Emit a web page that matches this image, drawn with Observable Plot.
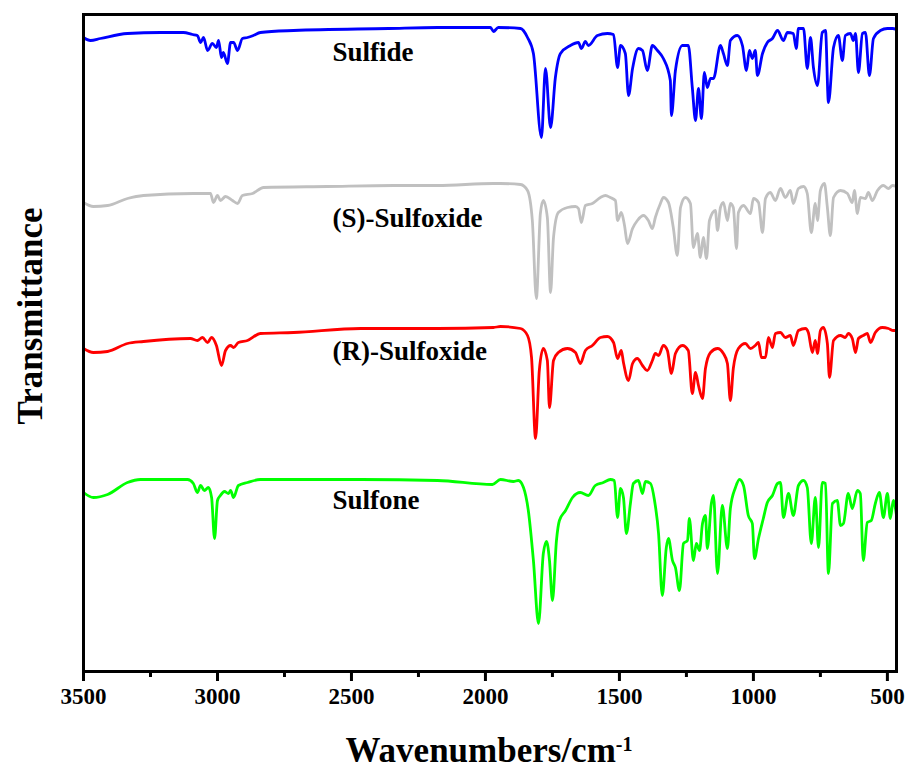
<!DOCTYPE html>
<html>
<head>
<meta charset="utf-8">
<script src="https://cdn.jsdelivr.net/npm/d3@7"></script>
<script src="https://cdn.jsdelivr.net/npm/@observablehq/plot@0.6"></script>
<style>
  html, body { margin: 0; padding: 0; background: #fff; }
  #chart { width: 907px; height: 778px; }
</style>
</head>
<body>
<div id="chart"></div>
<script>
// ---- Data (wavenumber cm^-1, transmittance a.u., traces offset as in the figure) ----
const majorTicks = [3500, 3000, 2500, 2000, 1500, 1000, 500];
const minorTicks = [3250, 2750, 2250, 1750, 1250, 750];

const seriesNames  = ["Sulfide", "(S)-Sulfoxide", "(R)-Sulfoxide", "Sulfone"];
const seriesColors = ["#0000FF", "#C0C0C0", "#FF0000", "#00FF00"];

const sulfide = [
[3500,634],[3474,631],[3437,633],[3336,638],[3213,639],[3127,639],[3093,637],[3075,636],[3063,629],[3052,634],[3037,621],[3019,628],[3004,624],[2996,631],[2985,614],[2978,619],[2963,608],[2951,629],[2940,629],[2925,621],[2907,633],[2888,634],[2866,636],[2840,639],[2716,641],[2362,643],[2179,644],[1981,644],[1970,640],[1952,644],[1869,643],[1843,634],[1821,618],[1791,534],[1776,603],[1757,544],[1739,594],[1720,618],[1683,626],[1653,629],[1642,623],[1627,630],[1616,626],[1582,636],[1545,638],[1522,637],[1507,604],[1496,626],[1478,618],[1466,576],[1451,603],[1429,623],[1414,621],[1396,601],[1377,626],[1358,621],[1336,613],[1310,591],[1306,556],[1291,601],[1265,626],[1243,626],[1228,584],[1216,551],[1205,583],[1194,553],[1183,599],[1172,584],[1160,593],[1149,593],[1123,626],[1112,618],[1097,606],[1086,631],[1060,636],[1041,626],[1026,601],[1015,621],[1004,613],[993,621],[985,596],[966,618],[948,629],[929,633],[910,641],[888,631],[873,639],[851,638],[840,623],[832,643],[813,643],[799,603],[787,634],[776,604],[761,586],[743,639],[731,641],[720,569],[701,624],[683,636],[668,611],[657,636],[638,638],[627,631],[619,638],[608,599],[593,638],[582,639],[567,596],[552,633],[526,641],[500,643],[481,643],[466,642]
];

const sSulfoxide = [
[3500,469],[3463,465],[3410,466],[3336,473],[3276,476],[3090,478],[3026,478],[3015,469],[3000,476],[2989,471],[2970,475],[2944,471],[2925,468],[2907,476],[2869,478],[2828,484],[2590,485],[2343,486],[2179,486],[1970,488],[1944,488],[1869,487],[1843,481],[1825,451],[1810,373],[1795,458],[1784,471],[1769,454],[1757,379],[1746,434],[1728,459],[1694,464],[1664,465],[1653,463],[1642,449],[1627,466],[1601,468],[1571,474],[1552,476],[1534,474],[1515,471],[1507,451],[1493,459],[1481,446],[1470,428],[1451,443],[1433,451],[1410,456],[1392,451],[1377,443],[1366,454],[1347,468],[1336,474],[1317,469],[1299,444],[1284,416],[1272,464],[1254,474],[1235,468],[1224,424],[1209,438],[1198,414],[1187,434],[1175,413],[1164,451],[1142,461],[1134,441],[1123,464],[1112,469],[1097,451],[1086,468],[1075,464],[1063,423],[1056,459],[1037,466],[1011,458],[1000,473],[981,469],[966,439],[955,473],[937,479],[918,471],[899,483],[881,474],[862,481],[851,468],[832,483],[813,485],[799,478],[784,439],[769,468],[761,451],[750,481],[735,488],[724,464],[713,436],[701,474],[675,481],[649,478],[631,469],[623,481],[612,458],[601,474],[582,473],[571,479],[556,471],[537,481],[515,486],[496,483],[481,486],[466,485]
];

const rSulfoxide = [
[3500,323],[3463,319],[3410,320],[3336,328],[3276,330],[3101,333],[3075,331],[3056,334],[3037,329],[3022,334],[3004,326],[2985,306],[2970,321],[2951,326],[2940,324],[2922,329],[2888,331],[2840,338],[2716,339],[2466,343],[2179,343],[1970,344],[1944,345],[1869,343],[1843,336],[1828,314],[1813,233],[1799,301],[1784,323],[1769,311],[1761,264],[1746,311],[1728,319],[1694,323],[1664,319],[1646,308],[1627,321],[1601,326],[1571,334],[1545,335],[1522,329],[1507,313],[1493,321],[1485,309],[1466,291],[1451,308],[1433,313],[1414,306],[1396,301],[1377,311],[1366,318],[1354,316],[1336,326],[1321,321],[1306,298],[1291,318],[1265,326],[1243,321],[1228,278],[1216,299],[1205,286],[1190,273],[1179,303],[1160,319],[1134,323],[1112,318],[1097,308],[1086,271],[1075,303],[1056,323],[1030,328],[1011,323],[993,326],[981,329],[970,314],[955,314],[944,334],[929,324],[918,338],[899,339],[881,334],[862,336],[851,326],[832,341],[806,343],[795,339],[780,319],[769,331],[761,318],[750,341],[739,344],[724,328],[716,294],[701,331],[675,336],[657,334],[646,338],[631,333],[619,319],[608,333],[590,336],[575,338],[563,329],[545,339],[519,344],[496,343],[478,341],[466,341]
];

const sulfone = [
[3500,179],[3463,174],[3410,177],[3336,189],[3287,192],[3112,192],[3090,188],[3075,179],[3063,186],[3049,181],[3034,184],[3022,174],[3011,133],[3000,171],[2989,176],[2974,180],[2959,178],[2951,181],[2940,174],[2922,186],[2888,189],[2840,192],[2590,192],[2466,192],[2179,191],[1974,187],[1944,192],[1896,190],[1877,191],[1858,184],[1840,161],[1821,111],[1802,48],[1784,118],[1772,130],[1761,111],[1750,71],[1735,131],[1724,151],[1701,161],[1675,174],[1646,179],[1616,176],[1590,186],[1560,189],[1534,192],[1519,191],[1507,154],[1496,183],[1485,174],[1474,138],[1459,168],[1448,188],[1429,191],[1414,178],[1403,190],[1384,188],[1369,171],[1354,138],[1340,76],[1325,124],[1317,133],[1302,111],[1291,104],[1276,81],[1261,128],[1246,131],[1239,153],[1224,111],[1213,128],[1201,121],[1190,148],[1179,156],[1172,123],[1157,168],[1149,176],[1134,98],[1116,166],[1097,123],[1086,163],[1067,184],[1052,192],[1037,186],[1019,156],[1004,148],[996,113],[981,133],[963,153],[948,169],[929,176],[910,188],[899,189],[888,154],[869,178],[851,156],[832,186],[813,191],[799,184],[784,128],[769,174],[757,124],[743,189],[731,188],[720,98],[705,168],[687,171],[675,146],[664,148],[646,178],[631,163],[612,181],[601,178],[590,111],[575,149],[560,151],[545,168],[530,179],[515,154],[500,178],[489,153],[478,171],[466,156]
];

// label anchor points (wavenumber, transmittance a.u.)
const labelWn = [2571, 2571, 2571, 2571];
const labelT  = [619, 453, 320, 171];

// ---- Build table ----
const seriesData = [sulfide, sSulfoxide, rSulfoxide, sulfone];
const rows = seriesData.flatMap((arr, i) => arr.map(([wn, t]) => ({series: seriesNames[i], wn, t})));
const labels = seriesNames.map((name, i) => ({name, wn: labelWn[i], t: labelT[i]}));

const serif = "'Liberation Serif', 'Times New Roman', Times, serif";

const chart = Plot.plot({
  width: 907,
  height: 778,
  marginLeft: 83,
  marginRight: 11,
  marginTop: 14,
  marginBottom: 107,
  style: {fontFamily: serif, background: "#fff", color: "#000"},
  x: {domain: [3500, 466], axis: null},
  y: {domain: [0, 657], axis: null},
  color: {domain: seriesNames, range: seriesColors},
  marks: [
    Plot.line(rows, {x: "wn", y: "t", z: "series", stroke: "series", curve: "monotone-x",
                     strokeWidth: 2.8, strokeLinejoin: "round", strokeLinecap: "round"}),
    Plot.frame({stroke: "#000", strokeWidth: 3}),
    Plot.axisX({ticks: majorTicks, tickSize: 10, tickPadding: 6, strokeWidth: 3, tickFormat: d3.format("d"),
                fontSize: 23, fontWeight: "bold", fontFamily: serif, label: null}),
    Plot.axisX({ticks: minorTicks, tickSize: 6, strokeWidth: 3, text: null, label: null}),
    Plot.text(labels, {x: "wn", y: "t", text: "name", textAnchor: "start", lineAnchor: "middle",
                       fontSize: 27, fontWeight: "bold", fontFamily: serif, fill: "#000"}),
    Plot.text(["Transmittance"], {frameAnchor: "left", textAnchor: "middle", rotate: -90, dx: -53, dy: -27,
                       fontSize: 35, fontWeight: "bold", fontFamily: serif, fill: "#000"}),
    Plot.text(["Wavenumbers/cm"], {frameAnchor: "bottom", textAnchor: "middle", dy: 79, dx: -1, lineAnchor: "middle",
                       fontSize: 35, fontWeight: "bold", fontFamily: serif, fill: "#000"})
  ]
});

document.getElementById("chart").appendChild(chart);

// superscript "-1" on the x-axis title
d3.select(chart).selectAll("text").each(function() {
  if (this.textContent === "Wavenumbers/cm") {
    d3.select(this).append("tspan").attr("dy", "-0.55em").attr("font-size", "20").text("-1");
  }
});
</script>
</body>
</html>
